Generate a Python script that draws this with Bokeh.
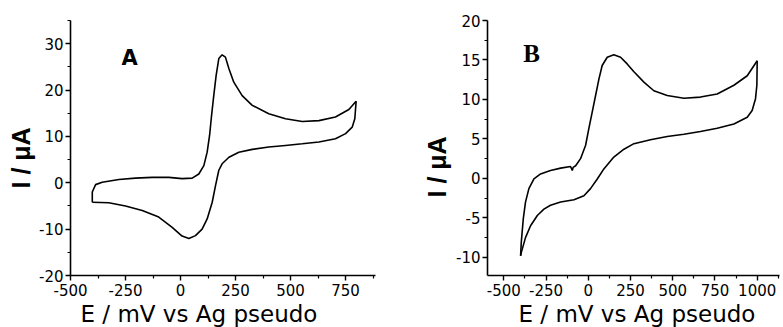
import math
from bokeh.plotting import figure
from bokeh.layouts import row
from bokeh.models import Label, FixedTicker, Range1d, Title
from bokeh.embed import file_html
from bokeh.resources import INLINE

# ---------------- data ----------------
# Panel A: anodic (forward) branch
a_fwd_E = [-401, -401, -386, -356, -280, -205, -129, -53, 7, 53, 83, 106, 121, 132, 141,
           151, 162, 174, 189, 204, 220, 242, 280, 326, 401, 477, 553, 629, 704, 765, 798]
a_fwd_I = [-4.2, -2.0, -0.4, 0.1, 0.7, 1.0, 1.16, 1.16, 0.9, 1.0, 1.9, 3.7, 6.6, 10.2, 14.5,
           18.8, 23.2, 26.8, 27.6, 27.1, 24.6, 21.7, 18.8, 16.7, 14.9, 13.8, 13.2, 13.4, 14.2, 15.8, 17.6]
# Panel A: cathodic (reverse) branch
a_rev_E = [798, 792, 780, 750, 704, 629, 553, 477, 401, 326, 265, 220, 189, 174, 159, 144,
           121, 98, 68, 38, 7, -38, -99, -174, -250, -326, -401]
a_rev_I = [17.6, 13.8, 12.0, 10.6, 9.5, 8.8, 8.4, 8.05, 7.7, 7.2, 6.6, 5.5, 4.1, 2.7, -0.6, -4.2,
           -7.8, -10.0, -11.4, -12.0, -11.5, -9.6, -7.4, -6.0, -5.0, -4.3, -4.2]

# Panel B: anodic (forward) branch
b_fwd_E = [-401, -397, -385, -372, -352, -322, -283, -224, -164, -105, -95, -90, -75, -46, -16, 3,
           23, 43, 63, 82, 112, 151, 191, 230, 270, 329, 388, 467, 566, 664, 763, 862, 941, 1000]
b_fwd_I = [-9.8, -8.1, -5.1, -3.0, -1.3, -0.07, 0.56, 1.0, 1.3, 1.5, 1.0, 1.4, 1.6, 2.5, 4.2, 6.3,
           8.4, 10.5, 12.6, 14.3, 15.35, 15.65, 15.35, 14.5, 13.5, 12.2, 11.1, 10.5, 10.16, 10.3, 10.7, 11.8, 13.0, 14.9]
# Panel B: cathodic (reverse) branch
b_rev_E = [1000, 998, 990, 970, 941, 862, 763, 664, 566, 467, 368, 270, 211, 151, 92, 53, 13,
           -26, -85, -164, -224, -263, -302, -342, -372, -397, -401]
b_rev_I = [14.9, 11.8, 10.1, 8.6, 7.75, 6.9, 6.35, 5.93, 5.6, 5.3, 4.9, 4.4, 3.7, 2.7, 1.2, -0.07, -1.3,
           -2.2, -2.7, -3.0, -3.4, -3.9, -4.7, -6.0, -7.5, -9.4, -9.8]

a_xticks = [-500, -250, 0, 250, 500, 750]
a_yticks = [-20, -10, 0, 10, 20, 30]
b_xticks = [-500, -250, 0, 250, 500, 750, 1000]
b_yticks = [-10, -5, 0, 5, 10, 15, 20]

x_title = "E / mV vs Ag pseudo"
y_title = "I / \u03bcA"
panel_names = ["A", "B"]

TICK_FONT = "DejaVu Sans"


def mids(ticks, lo, hi):
    out = [(ticks[i] + ticks[i + 1]) / 2 for i in range(len(ticks) - 1)]
    step = ticks[1] - ticks[0]
    if ticks[0] - step / 2 >= lo:
        out.insert(0, ticks[0] - step / 2)
    if ticks[-1] + step / 2 <= hi:
        out.append(ticks[-1] + step / 2)
    return out


def make_panel(width, bl, br, xr, yr, xt, yt):
    p = figure(width=width, height=327, output_backend="svg", toolbar_location=None,
               x_range=Range1d(*xr), y_range=Range1d(*yr),
               min_border_left=bl, min_border_right=br, min_border_top=20, min_border_bottom=52)
    p.outline_line_color = None
    p.xgrid.visible = False
    p.ygrid.visible = False
    p.xaxis.ticker = FixedTicker(ticks=xt, minor_ticks=mids(xt, xr[0], xr[1]))
    p.yaxis.ticker = FixedTicker(ticks=yt, minor_ticks=mids(yt, yr[0], yr[1]))
    p.xaxis.major_label_overrides = {t: str(t) for t in xt}
    p.yaxis.major_label_overrides = {t: str(t) for t in yt}
    for ax in (p.xaxis, p.yaxis):
        ax.axis_line_width = 1.6
        ax.axis_line_color = "black"
        ax.major_tick_line_width = 1.4
        ax.minor_tick_line_width = 1.2
        ax.major_tick_out = 5
        ax.major_tick_in = 0
        ax.minor_tick_out = 3
        ax.minor_tick_in = 0
        ax.major_label_text_font = TICK_FONT
        ax.major_label_text_font_size = "15px"
        ax.major_label_text_color = "black"
    p.xaxis.major_label_standoff = 3
    p.yaxis.major_label_standoff = 2
    return p


def add_titles(p, xoff, yoff, ystand):
    p.add_layout(Title(text=x_title, align="left", offset=xoff, standoff=0,
                       text_font="DejaVu Sans", text_font_size="23px",
                       text_font_style="normal", text_color="black"), "below")
    p.add_layout(Title(text=y_title, align="left", offset=yoff, standoff=ystand,
                       text_font="Liberation Sans", text_font_size="25px",
                       text_font_style="bold", text_color="black"), "left")


# ---------------- panel A ----------------
pA = make_panel(390, 70, 15, (-500, 886), (-20, 35), a_xticks, a_yticks)
pA.line(a_fwd_E, a_fwd_I, line_color="black", line_width=1.6)
pA.line(a_rev_E, a_rev_I, line_color="black", line_width=1.6)
pA.add_layout(Label(x=-268, y=26.9, text=panel_names[0], text_font="DejaVu Sans",
                    text_font_style="bold", text_font_size="21px", text_align="left",
                    text_baseline="alphabetic", text_color="black"))
add_titles(pA, 10, 87, 3)

# ---------------- panel B ----------------
pB = make_panel(392, 97, 3, (-597, 1132), (-12.3, 20), b_xticks, b_yticks)
pB.line(b_fwd_E, b_fwd_I, line_color="black", line_width=1.6)
pB.line(b_rev_E, b_rev_I, line_color="black", line_width=1.6)
pB.add_layout(Label(x=-385, y=15.8, text=panel_names[1], text_font="Liberation Serif",
                    text_font_style="bold", text_font_size="25px", text_align="left",
                    text_baseline="alphabetic", text_color="black"))
add_titles(pB, 31, 78, 5)

layout = row(pA, pB)
open("out.html", "w").write(file_html(layout, INLINE))
